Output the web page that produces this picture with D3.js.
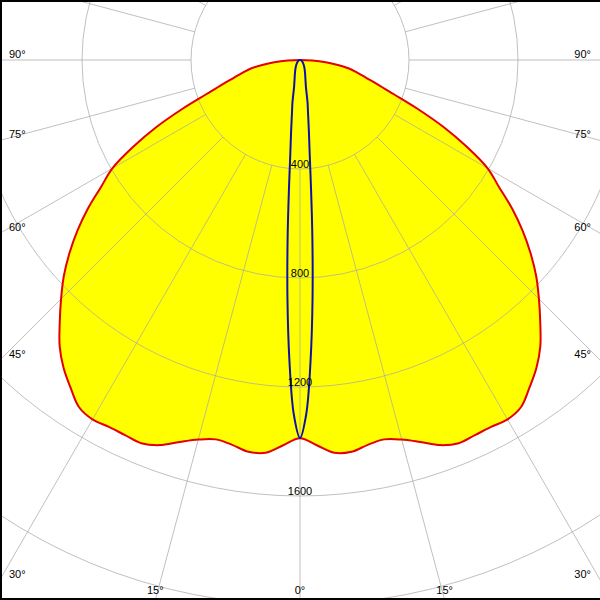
<!DOCTYPE html>
<html>
<head>
<meta charset="utf-8">
<script src="https://cdn.jsdelivr.net/npm/d3@7"></script>
<style>
  body { margin: 0; background: #fff; }
  text { font-family: "Liberation Sans", Arial, sans-serif; font-size: 11px; fill: #000; }
</style>
</head>
<body>
<div id="chart"></div>
<script>
// Intensity (cd) per angle, curves are symmetric about 0°
var redAngles = [0, 2.5, 5, 7.5, 10, 12.5, 15, 17.5, 20, 22.5, 25, 27.5, 30, 32.5, 35, 37.5, 40, 42.5, 45,
  47.5, 50, 52.5, 55, 57.5, 60, 62.5, 65, 67.5, 70, 72.5, 75, 77.5, 80, 82.5, 85, 87.5, 90];
var redValues = [1388, 1415, 1447, 1450, 1434, 1426, 1442, 1470, 1504, 1522, 1519, 1518, 1523, 1510, 1468, 1425, 1372, 1305, 1240,
  1176, 1105, 1030, 950, 865, 795, 690, 580, 465, 365, 300, 250, 215, 185, 140, 95, 45, 0];

var blueAngles = [0, 1, 2, 3, 4, 5, 6, 7, 8, 9, 10, 12.5, 15, 20, 30, 45, 60, 75, 90];
var blueValues = [1387, 1301, 1107, 879, 650, 458, 337, 270, 220, 185, 160, 100, 78, 55, 32, 16, 8, 3, 0];

// grid
var ringValues = [400, 800, 1200, 1600, 2000];
var ringLabels = ["400", "800", "1200", "1600"];
var degAngles = [0, 15, 30, 45, 60, 75, 90];
var degLabels = ["0°", "15°", "30°", "45°", "60°", "75°", "90°"];

const width = 600,
  height = 600,
  cx = 300,
  cy = 60;

var r = d3.scaleLinear().domain([0, 2000]).range([0, 545]);
var rad = d => d * Math.PI / 180;

var svg = d3.select("#chart").append("svg")
  .attr("width", width)
  .attr("height", height)
  .style("display", "block");

svg.append("rect").attr("width", width).attr("height", height).attr("fill", "#fff");

var g = svg.append("g").attr("transform", "translate(" + cx + "," + cy + ")");

// mirror one half into a closed curve (skip -90 so the centre point is not doubled)
function mirror(angles, values) {
  var pts = [];
  for (var i = angles.length - 2; i > 0; i--) pts.push({ a: -angles[i], v: values[i] });
  for (var j = 0; j < angles.length; j++) pts.push({ a: angles[j], v: values[j] });
  return pts;
}

// angle 0 points down
var line = d3.lineRadial()
  .angle(d => Math.PI - rad(d.a))
  .radius(d => r(d.v))
  .curve(d3.curveCatmullRomClosed.alpha(0.5));

var redPts = mirror(redAngles, redValues),
  bluePts = mirror(blueAngles, blueValues);

g.append("path")
  .attr("d", line(redPts))
  .attr("fill", "#ffff00")
  .attr("stroke", "none");

// grid on top of the fill
var grid = g.append("g")
  .attr("fill", "none")
  .attr("stroke", "#a8a8a8")
  .attr("stroke-opacity", 0.72)
  .attr("stroke-width", 1);

grid.selectAll("circle")
  .data(ringValues)
  .enter()
  .append("circle")
    .attr("r", d => r(d));

grid.selectAll("line")
  .data(d3.range(0, 360, 15))
  .enter()
  .append("line")
    .attr("x1", d => r(400) * Math.sin(rad(d)))
    .attr("y1", d => r(400) * Math.cos(rad(d)))
    .attr("x2", d => r(2400) * Math.sin(rad(d)))
    .attr("y2", d => r(2400) * Math.cos(rad(d)));

g.append("path")
  .attr("d", line(redPts))
  .attr("fill", "none")
  .attr("stroke", "#e40000")
  .attr("stroke-width", 2)
  .attr("stroke-linejoin", "round");

g.append("path")
  .attr("d", line(bluePts))
  .attr("fill", "none")
  .attr("stroke", "#1010a8")
  .attr("stroke-width", 2)
  .attr("stroke-linejoin", "round");

// intensity labels just above each ring
g.selectAll("text.ring")
  .data(ringLabels)
  .enter()
  .append("text")
    .attr("class", "ring")
    .attr("x", 0)
    .attr("y", (d, i) => r(ringValues[i]) - 1.5)
    .attr("text-anchor", "middle")
    .text(d => d);

// angle labels where each spoke leaves the frame, both sides
var degData = [];
degAngles.forEach((a, i) => {
  degData.push({ a: a, t: degLabels[i] });
  if (a > 0) degData.push({ a: -a, t: degLabels[i] });
});

svg.selectAll("text.deg")
  .data(degData)
  .enter()
  .append("text")
    .attr("class", "deg")
    .each(function (d) {
      var s = Math.sin(rad(d.a)), c = Math.cos(rad(d.a));
      var tx = s < 0 ? -cx / s : (width - cx) / s,
        ty = (height - cy) / c;
      if (Math.abs(s) > 1e-9 && tx < ty) {
        d3.select(this)
          .attr("x", s < 0 ? 9 : width - 9)
          .attr("y", cy + tx * c - 2)
          .attr("text-anchor", s < 0 ? "start" : "end");
      } else {
        d3.select(this)
          .attr("x", cx + ty * s)
          .attr("y", height - 6)
          .attr("text-anchor", "middle");
      }
    })
    .text(d => d.t);

// frame
svg.append("path")
  .attr("d", "M1,600V1H600M0,599H600")
  .attr("fill", "none")
  .attr("stroke", "#000")
  .attr("stroke-width", 2);
</script>
</body>
</html>
